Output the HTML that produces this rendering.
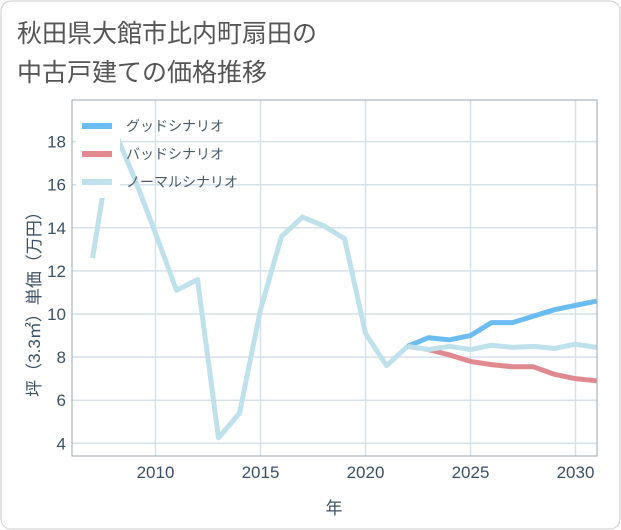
<!DOCTYPE html>
<html><head><meta charset="utf-8"><style>
body{margin:0;background:#fff;}
svg{display:block;font-family:"Liberation Sans","Noto Sans CJK JP",sans-serif;}
</style></head><body>
<svg id="chart" width="621" height="530">
<rect x="1" y="1" width="619" height="528" rx="10" fill="#fff" stroke="#ccc"/>
<text x="17" y="42" font-size="25" fill="#555">秋田県大館市比内町扇田の</text>
<text x="17" y="81" font-size="25" fill="#555">中古戸建ての価格推移</text>
<g id="grid"></g>
<g id="series"></g>
<g id="axes"></g>
<rect x="72" y="100" width="525" height="356" fill="none" stroke="#9aa5ad"/>
<g id="legend"></g>
<text transform="translate(40,300) rotate(-90)" text-anchor="middle" font-size="17" fill="#3c5068">坪（3.3㎡）単価（万円）</text>
<text x="334" y="514" text-anchor="middle" font-size="17" fill="#3c5068">年</text>
</svg>
<script>
const years=[2007,2008,2009,2010,2011,2012,2013,2014,2015,2016,2017,2018,2019,2020,2021,2022];
const normalHist=[12.6,18.6,16.3,13.75,11.1,11.6,4.25,5.4,10.2,13.6,14.5,14.1,13.5,9.1,7.6,8.5];
const futureYears=[2022,2023,2024,2025,2026,2027,2028,2029,2030,2031];
const goodVals=[8.5,8.9,8.8,9.0,9.6,9.6,9.9,10.2,10.4,10.6];
const badVals=[8.5,8.35,8.1,7.8,7.65,7.55,7.55,7.2,7.0,6.9];
const normalVals=[8.5,8.35,8.5,8.35,8.55,8.45,8.5,8.4,8.6,8.45];
const xTicks=[2010,2015,2020,2025,2030];
const yTicks=[4,6,8,10,12,14,16,18];
const NS='http://www.w3.org/2000/svg';
const X=y=>155.5+(y-2010)*21;
const Y=v=>443.3-(v-4)*21.55;
function mk(t,a,p){const e=document.createElementNS(NS,t);for(const k in a)e.setAttribute(k,a[k]);p.appendChild(e);return e;}
const grid=document.getElementById('grid'),axes=document.getElementById('axes'),ser=document.getElementById('series'),leg=document.getElementById('legend');
yTicks.forEach(v=>{
 const l=mk('line',{x1:72,x2:597,y1:Y(v),y2:Y(v),stroke:'#d6e1ea','stroke-width':1.5},grid);
 
 
 const t=mk('text',{x:66,y:Y(v)+6,'text-anchor':'end','font-size':17,fill:'#3c5068'},axes);
 t.textContent=v;
 
 
});
xTicks.forEach(v=>{
 const l=mk('line',{x1:X(v),x2:X(v),y1:100,y2:456,stroke:'#d6e1ea','stroke-width':1.5},grid);
 
 
 const t=mk('text',{x:X(v),y:478,'text-anchor':'middle','font-size':17,fill:'#3c5068'},axes);
 t.textContent=v;
 
 
});
function line(xs,vs,color,name){
 const p=mk('polyline',{points:xs.map((x,i)=>X(x)+','+Y(vs[i])).join(' '),fill:'none',stroke:color,'stroke-width':5,'stroke-linejoin':'round'},ser);
 
 
}
line(years,normalHist,'#bfe1ec','normal-history-line');
line(futureYears,badVals,'#e08a90','bad-scenario-line');
line(futureYears,goodVals,'#6bbcf0','good-scenario-line');
line(futureYears,normalVals,'#bfe1ec','normal-scenario-line');
const lb=mk('rect',{x:76,y:106,width:44,height:92,fill:'#fff'},leg);


[['グッドシナリオ','#6bbcf0','legend-good'],['バッドシナリオ','#e08a90','legend-bad'],['ノーマルシナリオ','#bfe1ec','legend-normal']].forEach((d,i)=>{
 const yy=126+i*28;
 const g=mk('g',{},leg);
 
 
 mk('line',{x1:82,x2:112,y1:yy,y2:yy,stroke:d[1],'stroke-width':6},g);
 const t=mk('text',{x:126,y:yy+5,'font-size':14,fill:'#4a5a6a'},g);
 t.textContent=d[0];
});
</script>
</body></html>
